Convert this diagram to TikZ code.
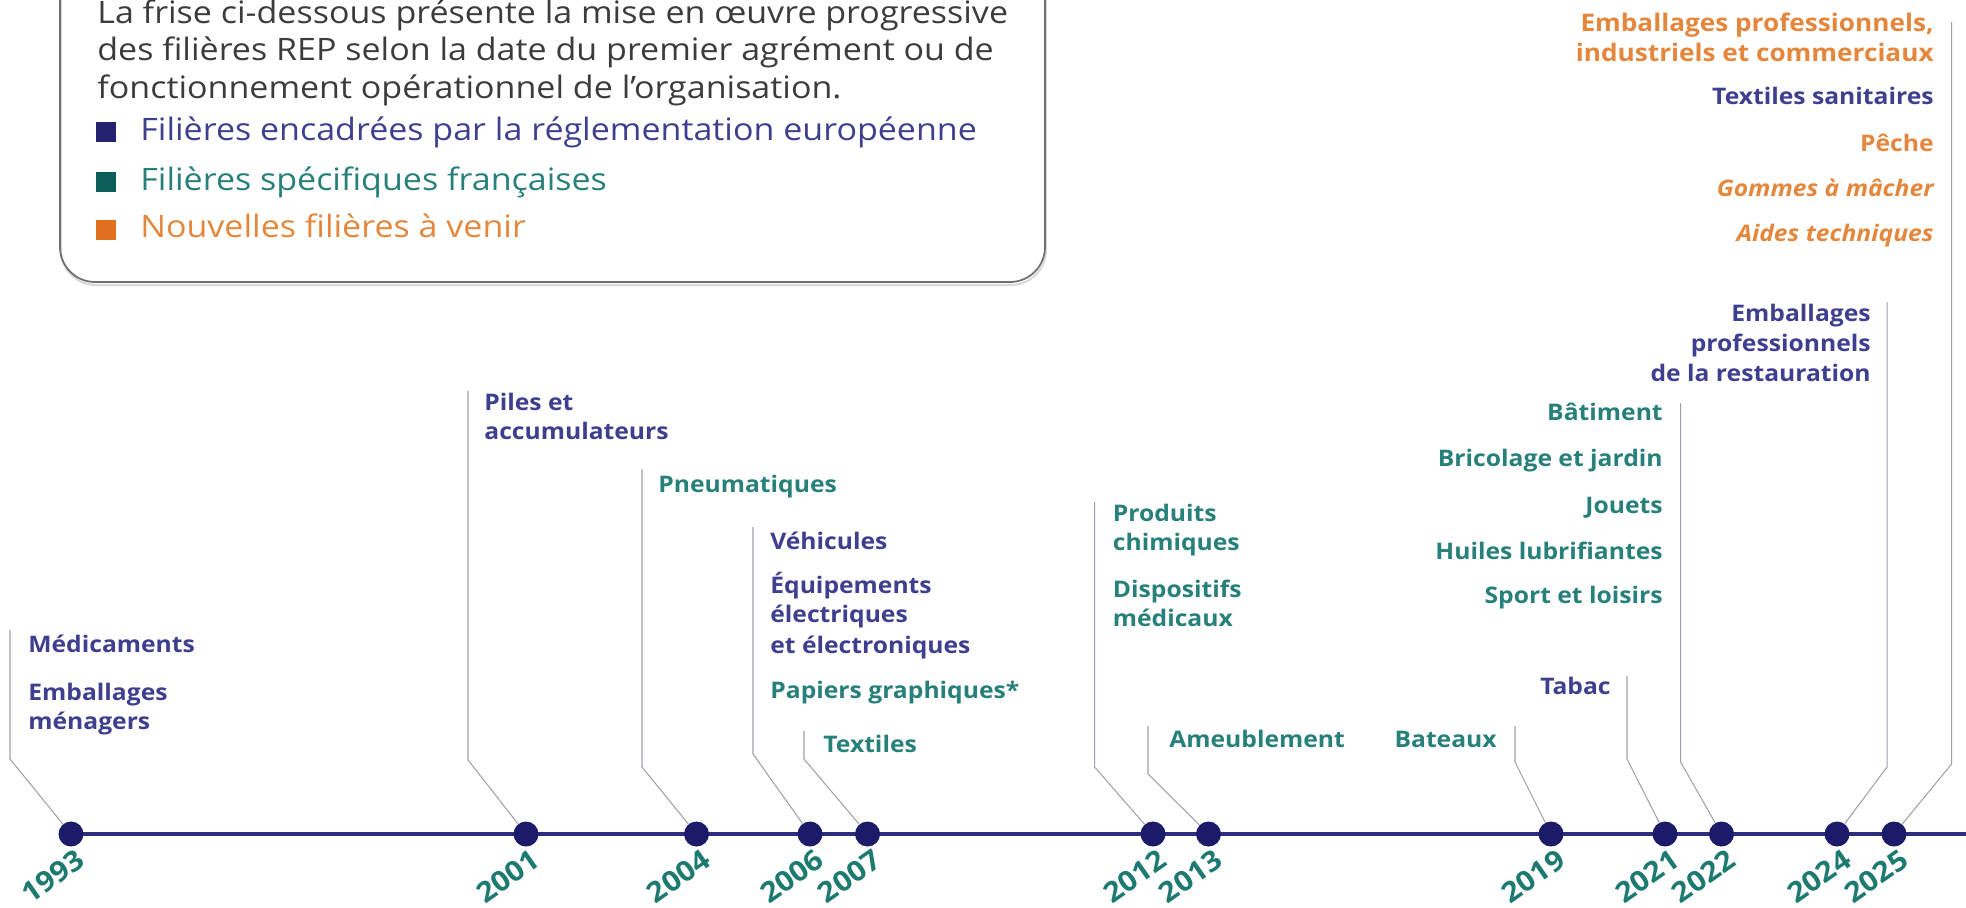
\documentclass[tikz,border=0pt]{standalone}
\usepackage{fontspec}
\setmainfont{Open Sans}
\newfontfamily\labfont{Open Sans}[FakeStretch=1.08]
\newfontfamily\intfont{Open Sans}[FakeStretch=1.1]
\usetikzlibrary{backgrounds}
\definecolor{tlcol}{HTML}{2E2E80}
\definecolor{dotcol}{HTML}{1B1B6A}
\definecolor{eublue}{HTML}{3F3F8F}
\definecolor{frteal}{HTML}{27807A}
\definecolor{yrteal}{HTML}{1D7A70}
\definecolor{neworange}{HTML}{E4873C}
\definecolor{leadgray}{HTML}{A0A0AA}
\definecolor{introgray}{HTML}{3C3C3C}
\definecolor{boxgray}{HTML}{707070}
\definecolor{sqblue}{HTML}{232372}
\definecolor{sqteal}{HTML}{0D5E5A}
\definecolor{sqorange}{HTML}{E07020}
\begin{document}
\begin{tikzpicture}[x=0.02cm,y=-0.02cm,
  lab/.style={inner sep=0pt, font=\labfont\bfseries\fontsize{13}{16}\selectfont},
  lw/.style={lab, anchor=base west},
  le/.style={lab, anchor=base east},
  eu/.style={text=eublue},
  fr/.style={text=frteal},
  nv/.style={text=neworange},
  dotnode/.style={circle, fill=dotcol, minimum size=0.5cm, inner sep=0pt},
  yearlab/.style={inner sep=0pt, rotate=35, text=yrteal, font=\labfont\bfseries\fontsize{16}{18}\selectfont},
  lead/.style={draw=leadgray, line width=0.6pt},
  tl/.style={draw=tlcol, line width=2pt},
  intro/.style={inner sep=0pt, anchor=base west, text=introgray, font=\intfont\fontsize{17.6}{21}\selectfont},
  sq/.style={inner sep=0pt, minimum size=0.4cm, anchor=center}
]
\useasboundingbox (0,0) rectangle (1966,907);
\clip (0,0) rectangle (1966,907);

% legend box
\draw[draw=black!15, line width=1.2pt, rounded corners=0.7cm] (61,-60) rectangle (1046,285);
\draw[draw=boxgray, line width=1pt, rounded corners=0.7cm] (60,-60) rectangle (1045,282);
\node[intro] (i1) at (97,23) {La frise ci-dessous présente la mise en œuvre progressive};
\node[intro] (i2) at (97,60.7) {des filières REP selon la date du premier agrément ou de};
\node[intro] (i3) at (97,98.3) {fonctionnement opérationnel de l’organisation.};
\node[sq, fill=sqblue] (s1) at (106,132) {};
\node[sq, fill=sqteal] (s2) at (106,182) {};
\node[sq, fill=sqorange] (s3) at (106,229.5) {};
\node[intro, text=eublue] (l1) at (140,140) {Filières encadrées par la réglementation européenne};
\node[intro, text=frteal] (l2) at (140,190) {Filières spécifiques françaises};
\node[intro, text=neworange] (l3) at (140,237.5) {Nouvelles filières à venir};

% dots
\node[dotnode] (d1993) at (71,834) {};
\node[dotnode] (d2001) at (526,834) {};
\node[dotnode] (d2004) at (696.5,834) {};
\node[dotnode] (d2006) at (810,834) {};
\node[dotnode] (d2007) at (867.5,834) {};
\node[dotnode] (d2012) at (1153,834) {};
\node[dotnode] (d2013) at (1208.5,834) {};
\node[dotnode] (d2019) at (1551,834) {};
\node[dotnode] (d2021) at (1665,834) {};
\node[dotnode] (d2022) at (1721.5,834) {};
\node[dotnode] (d2024) at (1837,834) {};
\node[dotnode] (d2025) at (1894,834) {};
\coordinate (tlend) at (1966,834);
\begin{scope}[on background layer]
\draw[tl] (d1993.center) -- (tlend);
\end{scope}

% years
\node[yearlab] (y1993) at (53,876) {1993};
\node[yearlab] (y2001) at (508,876) {2001};
\node[yearlab] (y2004) at (678.5,876) {2004};
\node[yearlab] (y2006) at (792,876) {2006};
\node[yearlab] (y2007) at (849.5,876) {2007};
\node[yearlab] (y2012) at (1135,876) {2012};
\node[yearlab] (y2013) at (1190.5,876) {2013};
\node[yearlab] (y2019) at (1533,876) {2019};
\node[yearlab] (y2021) at (1647,876) {2021};
\node[yearlab] (y2022) at (1703.5,876) {2022};
\node[yearlab] (y2024) at (1819,876) {2024};
\node[yearlab] (y2025) at (1876,876) {2025};

% leader lines
\coordinate (k1993) at (10,759);   \coordinate (t1993) at (10,630);
\coordinate (k2001) at (468,760);  \coordinate (t2001) at (468,391);
\coordinate (k2004) at (642,767);  \coordinate (t2004) at (642,469);
\coordinate (k2006) at (753,754);  \coordinate (t2006) at (753,527);
\coordinate (k2007) at (804,759);  \coordinate (t2007) at (804,731);
\coordinate (k2012) at (1094.6,767); \coordinate (t2012) at (1094.6,502);
\coordinate (k2013) at (1148,774); \coordinate (t2013) at (1148,726);
\coordinate (k2019) at (1515,762); \coordinate (t2019) at (1515,726);
\coordinate (k2021) at (1627,759); \coordinate (t2021) at (1627,676);
\coordinate (k2022) at (1680.6,762); \coordinate (t2022) at (1680.6,403);
\coordinate (k2024) at (1887,767); \coordinate (t2024) at (1887,302);
\coordinate (k2025) at (1951.6,764); \coordinate (t2025) at (1951.6,22);
\foreach \y in {1993,2001,2004,2006,2007,2012,2013,2019,2021,2022,2024,2025}{
  \draw[lead] (d\y) -- (k\y) -- (t\y);
}

% labels 1993
\node[lw,eu] (a1) at (28,652) {Médicaments};
\node[lw,eu] (a2) at (28,700) {Emballages};
\node[lw,eu] (a3) at (28,729) {ménagers};
% 2001
\node[lw,eu] (b1) at (484,410) {Piles et};
\node[lw,eu] (b2) at (484,439) {accumulateurs};
% 2004
\node[lw,fr] (c1) at (658,492) {Pneumatiques};
% 2006
\node[lw,eu] (e1) at (770,549) {Véhicules};
\node[lw,eu] (e2) at (770,593.5) {Équipements};
\node[lw,eu] (e3) at (770,622.6) {électriques};
\node[lw,eu] (e4) at (770,653) {et électroniques};
\node[lw,fr] (e5) at (770,698) {Papiers graphiques*};
% 2007
\node[lw,fr] (f1) at (823,752.7) {Textiles};
% 2012
\node[lw,fr] (g1) at (1112.5,521.5) {Produits};
\node[lw,fr] (g2) at (1112.5,550.7) {chimiques};
\node[lw,fr] (g3) at (1112.5,597) {Dispositifs};
\node[lw,fr] (g4) at (1112.5,626) {médicaux};
% 2013
\node[lw,fr] (h1) at (1169,747.6) {Ameublement};
% 2019
\node[le,fr] (j1) at (1497,747.6) {Bateaux};
% 2021
\node[le,eu] (m1) at (1611,694.5) {Tabac};
% 2022
\node[le,fr] (n1) at (1663,420.5) {Bâtiment};
\node[le,fr] (n2) at (1663,466.7) {Bricolage et jardin};
\node[le,fr] (n3) at (1663,513) {Jouets};
\node[le,fr] (n4) at (1663,559) {Huiles lubrifiantes};
\node[le,fr] (n5) at (1663,603.7) {Sport et loisirs};
% 2024
\node[le,eu] (p1) at (1871,321) {Emballages};
\node[le,eu] (p2) at (1871,351) {professionnels};
\node[le,eu] (p3) at (1871,381) {de la restauration};
% 2025
\node[le,nv,font=\labfont\bfseries\fontsize{13.8}{16}\selectfont] (q1) at (1934,31) {Emballages professionnels,};
\node[le,nv,font=\labfont\bfseries\fontsize{13.8}{16}\selectfont] (q2) at (1934,61) {industriels et commerciaux};
\node[le,eu] (q3) at (1934,104) {Textiles sanitaires};
\node[le,nv] (q4) at (1934,151) {Pêche};
\node[le,nv,font=\labfont\bfseries\itshape\fontsize{13}{16}\selectfont] (q5) at (1934,196) {Gommes à mâcher};
\node[le,nv,font=\labfont\bfseries\itshape\fontsize{13}{16}\selectfont] (q6) at (1934,241) {Aides techniques};
\end{tikzpicture}
\end{document}
